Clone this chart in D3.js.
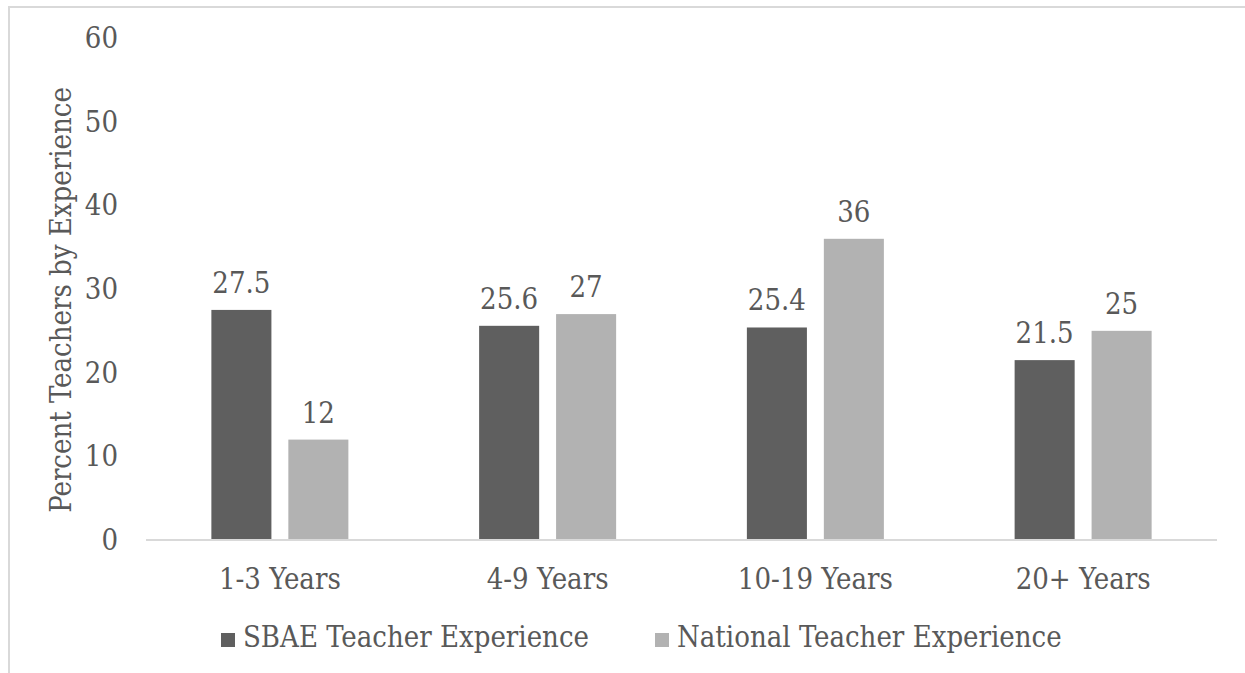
<!DOCTYPE html>
<html>
<head>
<meta charset="utf-8">
<script src="https://cdn.jsdelivr.net/npm/d3@7"></script>
<style>
  html, body { margin: 0; padding: 0; background: #fff; }
  svg { display: block; }
</style>
</head>
<body>
<svg id="chart" width="1245" height="673"></svg>
<script>
const categories = ["1-3 Years", "4-9 Years", "10-19 Years", "20+ Years"];
const seriesNames = ["SBAE Teacher Experience", "National Teacher Experience"];
const sbaeValues = [27.5, 25.6, 25.4, 21.5];
const nationalValues = [12, 27, 36, 25];
const yTicks = [0, 10, 20, 30, 40, 50, 60];
const colors = ["#5f5f5f", "#b2b2b2"];

const FONT = "'DejaVu Serif Condensed', 'DejaVu Serif', serif";
const svg = d3.select("#chart");
const fs = 29;
const txt = "#595959";

function styleText(sel) {
  return sel.attr("font-size", fs).attr("fill", txt)
    .style("font-family", FONT).style("font-stretch", "condensed");
}

// outer border
svg.append("rect").attr("x", 9).attr("y", 7).attr("width", 1260).attr("height", 700)
  .attr("fill", "none").attr("stroke", "#d9d9d9").attr("stroke-width", 2);

const x0 = d3.scaleBand().domain(categories).range([146, 1217]);
const x1 = d3.scaleBand().domain([0, 1]).range([0, 137]).paddingInner(0.22);
const y = d3.scaleLinear().domain([0, 60]).range([540, 38]);

const series = [sbaeValues, nationalValues];
const data = [];
categories.forEach((c, i) => series.forEach((s, j) => data.push({ c, j, v: s[i] })));

const groupOff = (x0.bandwidth() - 137) / 2;

// bars
svg.append("g").selectAll("rect").data(data).join("rect")
  .attr("x", d => x0(d.c) + groupOff + x1(d.j))
  .attr("y", d => y(d.v))
  .attr("width", x1.bandwidth())
  .attr("height", d => y(0) - y(d.v))
  .attr("fill", d => colors[d.j]);

// value labels
styleText(svg.append("g").selectAll("text").data(data).join("text")
  .attr("x", d => x0(d.c) + groupOff + x1(d.j) + x1.bandwidth() / 2)
  .attr("y", d => y(d.v) - 17)
  .attr("text-anchor", "middle"))
  .text(d => String(d.v));

// x axis line
svg.append("line").attr("x1", 146).attr("x2", 1217).attr("y1", y(0)).attr("y2", y(0))
  .attr("stroke", "#d9d9d9").attr("stroke-width", 2);

// x labels
styleText(svg.append("g").selectAll("text").data(categories).join("text")
  .attr("x", d => x0(d) + x0.bandwidth() / 2)
  .attr("y", 589)
  .attr("text-anchor", "middle"))
  .text(d => d);

// y tick labels
styleText(svg.append("g").selectAll("text").data(yTicks).join("text")
  .attr("x", 118)
  .attr("y", d => y(d))
  .attr("dy", "0.35em")
  .attr("text-anchor", "end"))
  .text(d => d);

// y title
styleText(svg.append("text")
  .attr("transform", "translate(71,300) rotate(-90)")
  .attr("text-anchor", "middle"))
  .text("Percent Teachers by Experience");

// legend
const legendX = [221, 655];
const lg = svg.append("g").selectAll("g").data(seriesNames).join("g")
  .attr("transform", (d, i) => `translate(${legendX[i]},0)`);
lg.append("rect").attr("x", 0).attr("y", 633).attr("width", 14).attr("height", 14)
  .attr("fill", (d, i) => colors[i]);
styleText(lg.append("text").attr("x", 22).attr("y", 647)).text(d => d);
</script>
</body>
</html>
